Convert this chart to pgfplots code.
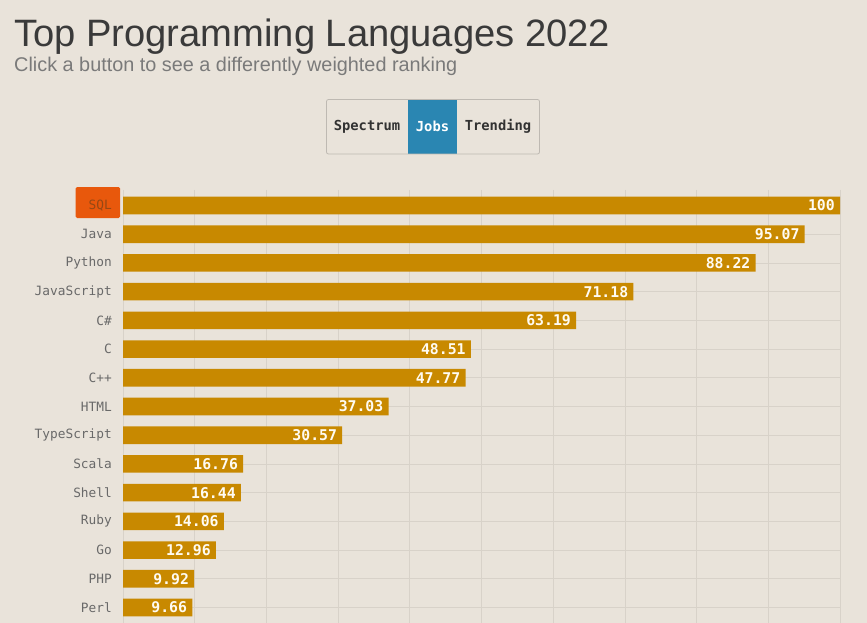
\documentclass[border=0pt]{standalone}
\usepackage{pgfplots}
\pgfplotsset{compat=1.18}
\usepackage{pgfplotstable}
\usepackage{fontspec}
\setmainfont{Liberation Sans}
\newfontfamily\monof{DejaVu Sans Mono}
\definecolor{bgc}{RGB}{233,227,218}
\definecolor{barc}{RGB}{200,137,0}
\definecolor{valc}{RGB}{255,251,242}
\definecolor{labc}{RGB}{105,105,105}
\definecolor{sqlbox}{RGB}{232,88,12}
\definecolor{sqltxt}{RGB}{150,72,20}
\definecolor{jobsc}{RGB}{42,134,178}
\definecolor{titc}{RGB}{58,58,58}
\definecolor{subc}{RGB}{122,122,122}
\definecolor{btnb}{RGB}{190,185,178}
\definecolor{gridc}{RGB}{216,210,201}
\definecolor{btntxt}{RGB}{50,50,50}

\pgfplotstableread{
y x lab
0 100 100
1 95.07 95.07
2 88.22 88.22
3 71.18 71.18
4 63.19 63.19
5 48.51 48.51
6 47.77 47.77
7 37.03 37.03
8 30.57 30.57
9 16.76 16.76
10 16.44 16.44
11 14.06 14.06
12 12.96 12.96
13 9.92 9.92
14 9.66 9.66
}\datatable

\begin{document}
\begin{tikzpicture}
\useasboundingbox (0,0) rectangle (867pt,-623pt);
\clip (0,0) rectangle (867pt,-623pt);
\fill[bgc] (0,0) rectangle (867pt,-623pt);
% title
\node[anchor=base west, inner sep=0pt, text=titc] at (14pt,-46.5pt)
  {\resizebox{596pt}{!}{\fontsize{38}{44}\selectfont Top Programming Languages 2022}};
\node[anchor=base west, inner sep=0pt, text=subc] at (14pt,-71.5pt)
  {\resizebox{443pt}{!}{\fontsize{19}{22}\selectfont Click a button to see a differently weighted ranking}};
% buttons
\fill[bgc] (326.5pt,-99.5pt) rectangle (539.5pt,-154pt);
\fill[jobsc] (408pt,-99.5pt) rectangle (457pt,-154pt);
\draw[btnb, line width=0.8pt, rounded corners=2pt] (326.5pt,-99.5pt) rectangle (539.5pt,-154pt);
\node[text=btntxt, inner sep=0pt] at (367pt,-126.5pt) {\monof\bfseries\fontsize{13.8}{16}\selectfont Spectrum};
\node[text=white, inner sep=0pt] at (432.5pt,-126.5pt) {\monof\bfseries\fontsize{13.8}{16}\selectfont Jobs};
\node[text=btntxt, inner sep=0pt] at (498pt,-126.5pt) {\monof\bfseries\fontsize{13.8}{16}\selectfont Trending};
% SQL highlight box
\fill[sqlbox, rounded corners=1.5pt] (75.5pt,-187pt) rectangle (120pt,-218pt);
\begin{axis}[
  at={(123pt,-189.7pt)}, anchor=north west,
  scale only axis,
  width=717pt, height=435pt,
  xbar, bar width=17.6pt,
  xmin=0, xmax=100,
  ymin=-0.55, ymax=14.6,
  enlargelimits=false,
  y dir=reverse,
  xtick={0,10,...,100}, xticklabels={},
  ytick={0,...,14},
  yticklabels={{\color{sqltxt}SQL},Java,Python,JavaScript,C\#,C,C++,HTML,TypeScript,Scala,Shell,Ruby,Go,PHP,Perl},
  yticklabel style={anchor=east, inner sep=0pt, xshift=-11pt, text=labc, font=\monof\fontsize{12.8}{15}\selectfont},
  major tick length=0pt,
  axis line style={draw=none},
  grid=major,
  major grid style={gridc, line width=0.8pt},
  nodes near coords,
  point meta=explicit symbolic,
  nodes near coords style={anchor=east, inner sep=0pt, xshift=-5pt, text=valc, font=\monof\bfseries\fontsize{14.8}{17}\selectfont},
  clip=false,
]
\addplot[fill=barc, draw=none] table[x=x, y=y, meta=lab] {\datatable};
\end{axis}
\end{tikzpicture}
\end{document}
